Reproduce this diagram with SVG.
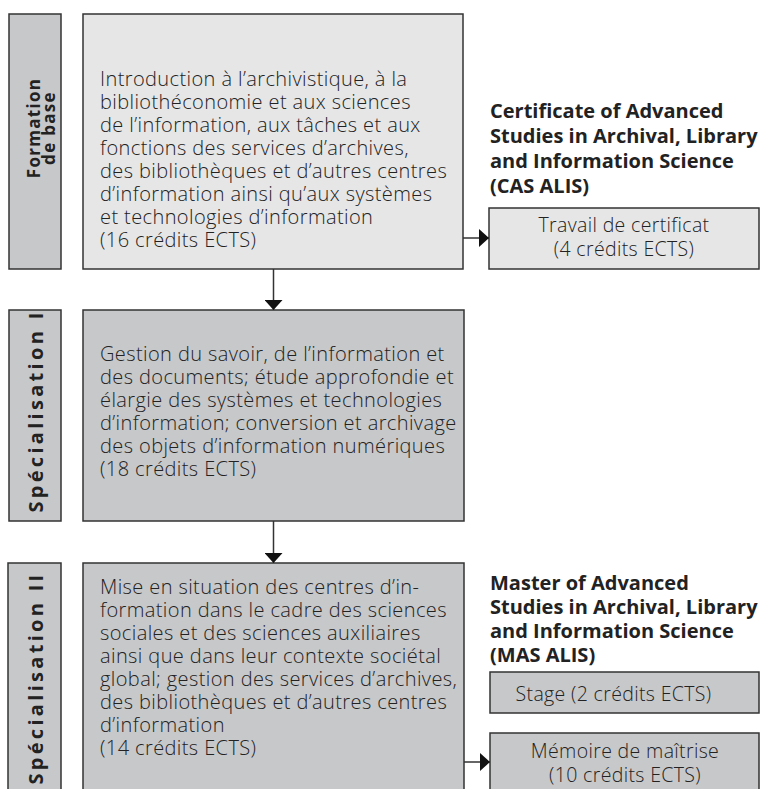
<svg xmlns="http://www.w3.org/2000/svg" width="760" height="789" viewBox="0 0 760 789">
<defs>
<style>
.box{stroke:#333;stroke-width:1.5}
.light{fill:#e6e6e7}
.dark{fill:#c7c8ca}
.t{font-family:"Open Sans","Noto Sans",sans-serif;font-size:20px;font-weight:300;fill:#222;letter-spacing:0.4px}
.r{font-family:"Open Sans","Noto Sans",sans-serif;font-size:19.5px;font-weight:300;fill:#222;letter-spacing:0.35px}
.b{font-family:"Open Sans","Noto Sans",sans-serif;font-size:20px;font-weight:bold;fill:#222}
.lab{font-family:"Open Sans","Noto Sans",sans-serif;font-size:20px;font-weight:bold;fill:#222;letter-spacing:3.3px}
.lab2{font-family:"Open Sans","Noto Sans",sans-serif;font-size:17px;font-weight:bold;fill:#222;letter-spacing:1.3px}
.c{stroke:#333;stroke-width:1.5;fill:none}
</style>
<marker id="ah" viewBox="0 0 10 18" refX="10" refY="9" markerWidth="10" markerHeight="18" markerUnits="userSpaceOnUse" orient="auto">
<path d="M0,0 L10,9 L0,18 Z" fill="#111"/>
</marker>
</defs>

<g id="label-formation">
<rect class="box dark" x="9" y="14" width="52" height="255"/>
<text class="lab2" transform="translate(35,128) rotate(-90)" text-anchor="middle"><tspan x="0" y="5">Formation</tspan><tspan x="0" y="20">de base</tspan></text>
</g>

<g id="box-formation">
<rect class="box light" x="83" y="14" width="380" height="255"/>
<text class="t"><tspan x="100" y="86">Introduction à l’archivistique, à la</tspan><tspan x="100" y="109">bibliothéconomie et aux sciences</tspan><tspan x="100" y="132">de l’information, aux tâches et aux</tspan><tspan x="100" y="155">fonctions des services d’archives,</tspan><tspan x="100" y="178">des bibliothèques et d’autres centres</tspan><tspan x="100" y="201">d’information ainsi qu’aux systèmes</tspan><tspan x="100" y="224">et technologies d’information</tspan><tspan x="100" y="247">(16 crédits ECTS)</tspan></text>
</g>

<g id="title-cas">
<text class="b"><tspan x="490" y="118">Certificate of Advanced</tspan><tspan x="490" y="143">Studies in Archival, Library</tspan><tspan x="490" y="168">and Information Science</tspan><tspan x="490" y="193">(CAS ALIS)</tspan></text>
</g>

<g id="box-travail">
<rect class="box light" x="489" y="208" width="270" height="61"/>
<text class="r" text-anchor="middle"><tspan x="624" y="232">Travail de certificat</tspan><tspan x="624" y="256">(4 crédits ECTS)</tspan></text>
</g>

<g id="label-spec1">
<rect class="box dark" x="9" y="310" width="52" height="211"/>
<text class="lab" transform="translate(35,411) rotate(-90)" text-anchor="middle" x="0" y="8">Spécialisation I</text>
</g>

<g id="box-spec1">
<rect class="box dark" x="83" y="310" width="381" height="211"/>
<text class="t"><tspan x="100" y="361">Gestion du savoir, de l’information et</tspan><tspan x="100" y="384">des documents; étude approfondie et</tspan><tspan x="100" y="407">élargie des systèmes et technologies</tspan><tspan x="100" y="430">d’information; conversion et archivage</tspan><tspan x="100" y="453">des objets d’information numériques</tspan><tspan x="100" y="476">(18 crédits ECTS)</tspan></text>
</g>

<g id="label-spec2">
<rect class="box dark" x="8" y="563" width="53" height="240"/>
<text class="lab" transform="translate(35,678) rotate(-90)" text-anchor="middle" x="0" y="8">Spécialisation II</text>
</g>

<g id="box-spec2">
<rect class="box dark" x="83" y="563" width="381" height="240"/>
<text class="t"><tspan x="100" y="594">Mise en situation des centres d’in-</tspan><tspan x="100" y="617">formation dans le cadre des sciences</tspan><tspan x="100" y="640">sociales et des sciences auxiliaires</tspan><tspan x="100" y="663">ainsi que dans leur contexte sociétal</tspan><tspan x="100" y="686">global; gestion des services d’archives,</tspan><tspan x="100" y="709">des bibliothèques et d’autres centres</tspan><tspan x="100" y="732">d’information</tspan><tspan x="100" y="755">(14 crédits ECTS)</tspan></text>
</g>

<g id="title-mas">
<text class="b"><tspan x="490" y="590">Master of Advanced</tspan><tspan x="490" y="614">Studies in Archival, Library</tspan><tspan x="490" y="638">and Information Science</tspan><tspan x="490" y="662">(MAS ALIS)</tspan></text>
</g>

<g id="box-stage">
<rect class="box dark" x="490" y="672" width="269" height="41"/>
<text class="r" text-anchor="middle" x="613.5" y="701">Stage (2 crédits ECTS)</text>
</g>

<g id="box-memoire">
<rect class="box dark" x="490" y="733" width="269" height="70"/>
<text class="r" text-anchor="middle"><tspan x="625" y="758">Mémoire de maîtrise</tspan><tspan x="625" y="782">(10 crédits ECTS)</tspan></text>
</g>

<g id="connectors">
<line class="c" x1="273.5" y1="269" x2="273.5" y2="310" marker-end="url(#ah)"/>
<line class="c" x1="273.5" y1="521" x2="273.5" y2="563" marker-end="url(#ah)"/>
<line class="c" x1="463" y1="238" x2="489" y2="238" marker-end="url(#ah)"/>
<line class="c" x1="464" y1="762" x2="490" y2="762" marker-end="url(#ah)"/>
</g>
</svg>
